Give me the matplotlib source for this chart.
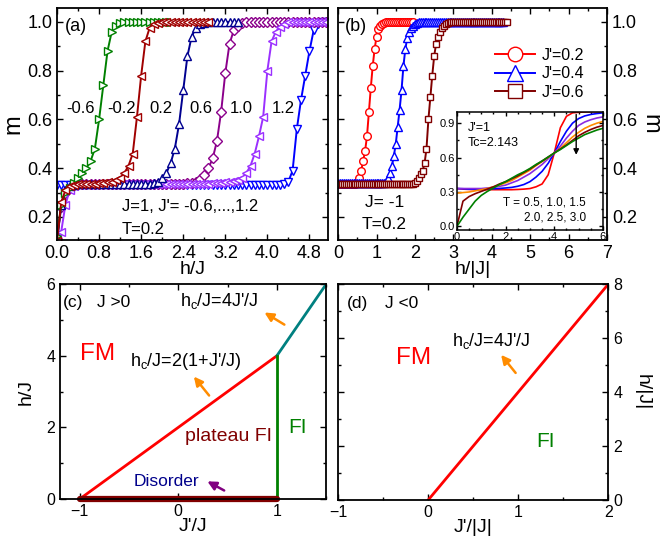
import matplotlib.pyplot as plt
from matplotlib.ticker import MultipleLocator, FormatStrFormatter

plt.rcParams['font.family'] = ['Liberation Sans', 'DejaVu Sans']
plt.rcParams['mathtext.default'] = 'regular'
plt.rcParams['xtick.direction'] = 'in'
plt.rcParams['ytick.direction'] = 'in'
plt.rcParams['xtick.top'] = True
plt.rcParams['ytick.right'] = True
plt.rcParams['axes.linewidth'] = 1.3
plt.rcParams['xtick.major.size'] = 4
plt.rcParams['ytick.major.size'] = 4
plt.rcParams['xtick.minor.size'] = 2
plt.rcParams['ytick.minor.size'] = 2
plt.rcParams['xtick.major.width'] = 1
plt.rcParams['ytick.major.width'] = 1
plt.rcParams['xtick.minor.width'] = 1
plt.rcParams['ytick.minor.width'] = 1

# ---- panel (a): J=1, T=0.2, m vs h/J ----
h_a = [0.00, 0.08, 0.16, 0.24, 0.32, 0.40, 0.48, 0.56, 0.64, 0.72, 0.80, 0.88, 0.96,
       1.04, 1.12, 1.20, 1.28, 1.36, 1.44, 1.52, 1.60, 1.68, 1.76, 1.84, 1.92, 2.00,
       2.08, 2.16, 2.24, 2.32, 2.40, 2.48, 2.56, 2.64, 2.72, 2.80, 2.88, 2.96, 3.04,
       3.12, 3.20, 3.28, 3.36, 3.44, 3.52, 3.60, 3.68, 3.76, 3.84, 3.92, 4.00, 4.08,
       4.16, 4.24, 4.32, 4.40, 4.48, 4.56, 4.64, 4.72, 4.80, 4.88, 4.96, 5.04, 5.12]
m_a_m06 = [0.12, 0.25, 0.30, 0.32, 0.34, 0.36, 0.38, 0.40, 0.43, 0.48, 0.60, 0.74, 0.88,
           0.96, 0.985, 0.995] + [1.0] * 12
m_a_m02 = [0.10, 0.26, 0.31, 0.325, 0.33,
           0.333, 0.334, 0.335, 0.336, 0.337, 0.338, 0.34, 0.342, 0.345, 0.35,
           0.36, 0.38, 0.41, 0.46, 0.61, 0.78, 0.92, 0.975, 0.99, 0.997] + [1.0] * 12
m_a_02 = [0.10, 0.25, 0.31, 0.325, 0.33] + [0.333] * 15 + \
         [0.334, 0.335, 0.337, 0.34, 0.345,
          0.36, 0.38, 0.42, 0.48, 0.58, 0.72, 0.86, 0.94, 0.975, 0.99, 0.995] + [1.0] * 8
m_a_06 = [0.11, 0.24, 0.30, 0.32, 0.33] + [0.333] * 23 + \
         [0.334, 0.335, 0.336, 0.338, 0.34,
          0.345, 0.355, 0.37, 0.40, 0.44, 0.51, 0.63, 0.79, 0.91, 0.965, 0.985, 0.995] + [1.0] * 20
m_a_10 = [0.11, 0.14, 0.25, 0.31, 0.325] + [0.335] * 30 + \
         [0.336, 0.337, 0.338, 0.339, 0.34, 0.342, 0.345, 0.348, 0.352,
          0.36, 0.38, 0.41, 0.46, 0.53, 0.61, 0.80, 0.92, 0.96, 0.98, 0.99] + [1.0] * 10
m_a_12 = [0.33] * 54 + [0.335, 0.345, 0.39, 0.56, 0.68, 0.78, 0.88, 0.965, 0.99, 1.0, 1.0]
labels_a = ['-0.6', '-0.2', '0.2', '0.6', '1.0', '1.2']
label_pos_a = [0.45, 1.22, 1.97, 2.73, 3.50, 4.30]

# ---- panel (b): J=-1, T=0.2 ----
h_b = [0.00, 0.05, 0.10, 0.15, 0.20, 0.25, 0.30, 0.35, 0.40, 0.45, 0.50, 0.55, 0.60,
       0.65, 0.70, 0.75, 0.80, 0.85, 0.90, 0.95, 1.00, 1.05, 1.10, 1.15, 1.20, 1.25,
       1.30, 1.35, 1.40, 1.45, 1.50, 1.55, 1.60, 1.65, 1.70, 1.75, 1.80, 1.85, 1.90,
       1.95, 2.00, 2.05, 2.10, 2.15, 2.20, 2.25, 2.30, 2.35, 2.40, 2.45, 2.50, 2.55,
       2.60, 2.65, 2.70, 2.75, 2.80, 2.85, 2.90, 2.95, 3.00, 3.05, 3.10, 3.15, 3.20,
       3.25, 3.30, 3.35, 3.40, 3.45, 3.50, 3.55, 3.60, 3.65, 3.70, 3.75, 3.80, 3.85,
       3.90, 3.95, 4.00, 4.05, 4.10, 4.15, 4.20, 4.25, 4.30, 4.35, 4.40]
m_b_02 = [0.335] * 10 + [0.34, 0.36, 0.39, 0.43, 0.47, 0.53, 0.63, 0.73, 0.82, 0.89,
                         0.94, 0.97, 0.985, 0.993, 0.997] + [1.0] * 15
m_b_04 = [0.34] * 25 + [0.345, 0.36, 0.38, 0.41, 0.45, 0.50, 0.57, 0.64, 0.72, 0.82,
                        0.89, 0.935, 0.96, 0.975, 0.985, 0.99, 0.995] + [1.0] * 45
m_b_06 = [0.333] * 39 + [0.335, 0.34, 0.347, 0.36, 0.375, 0.39, 0.42, 0.48, 0.60, 0.69,
                         0.78, 0.86, 0.91, 0.94, 0.96, 0.975, 0.985, 0.99, 0.995] + [1.0] * 31

# ---- inset: J'=1, several T ----
h_in = [0.0, 0.25, 0.5, 0.75, 1.0, 1.25, 1.5, 1.75, 2.0, 2.25, 2.5, 2.75, 3.0,
        3.25, 3.5, 3.75, 4.0, 4.25, 4.5, 4.75, 5.0, 5.25, 5.5, 5.75, 6.0]
m_t05 = [0.33, 0.325, 0.322, 0.32, 0.32, 0.32, 0.32, 0.32, 0.32, 0.32, 0.322, 0.325, 0.33,
         0.345, 0.37, 0.45, 0.64, 0.86, 0.96, 0.99, 0.995, 0.998, 1.0, 1.0, 1.0]
m_t10 = [0.33, 0.328, 0.325, 0.325, 0.325, 0.326, 0.328, 0.331, 0.335, 0.34, 0.35, 0.365, 0.39,
         0.43, 0.48, 0.55, 0.64, 0.74, 0.83, 0.90, 0.94, 0.963, 0.976, 0.984, 0.99]
m_t15 = [0.33, 0.33, 0.33, 0.33, 0.33, 0.335, 0.34, 0.35, 0.36, 0.38, 0.40, 0.43, 0.46,
         0.50, 0.54, 0.59, 0.64, 0.70, 0.77, 0.83, 0.88, 0.91, 0.93, 0.945, 0.955]
m_t20 = [0.29, 0.295, 0.30, 0.31, 0.32, 0.33, 0.345, 0.36, 0.38, 0.40, 0.43, 0.46, 0.49,
         0.53, 0.565, 0.60, 0.64, 0.68, 0.73, 0.78, 0.82, 0.855, 0.88, 0.90, 0.915]
m_t25 = [0.0, 0.22, 0.26, 0.285, 0.305, 0.325, 0.345, 0.37, 0.39, 0.415, 0.44, 0.47, 0.50,
         0.535, 0.57, 0.605, 0.64, 0.675, 0.71, 0.75, 0.79, 0.82, 0.845, 0.865, 0.88]
m_t30 = [0.0, 0.08, 0.15, 0.22, 0.27, 0.305, 0.335, 0.365, 0.39, 0.42, 0.45, 0.475, 0.505,
         0.54, 0.57, 0.605, 0.64, 0.67, 0.705, 0.74, 0.77, 0.80, 0.82, 0.84, 0.855]

# ---- panel (c): phase diagram J>0 ----
line_fm_x = [-1, 1]
line_fm_y = [0, 4]
line_hi_x = [1, 1.5]
line_hi_y = [4, 6]
line_fi_x = [1, 1]
line_fi_y = [0, 4]
line_dis_x = [-1, 1]
line_dis_y = [0, 0]

# ---- panel (d): phase diagram J<0 ----
line_d_x = [0, 2]
line_d_y = [0, 8]

fig = plt.figure(figsize=(6.67, 5.37), dpi=100)
ax_a = fig.add_axes([0.0855, 0.553, 0.406, 0.432])
ax_b = fig.add_axes([0.507, 0.553, 0.403, 0.432])
ax_c = fig.add_axes([0.090, 0.0708, 0.399, 0.400])
ax_d = fig.add_axes([0.507, 0.0689, 0.405, 0.402])
ax_in = fig.add_axes([0.685, 0.572, 0.219, 0.220])

# panel (a)
curves_a = [(m_a_12, '#0000FF', 'v', 6), (m_a_06, '#8B008B', 'D', 5),
            (m_a_10, '#9B30FF', '<', 6), (m_a_02, '#000090', '^', 6),
            (m_a_m06, '#008000', '>', 6), (m_a_m02, '#A00000', '<', 6)]
for m, c, mk, ms in curves_a:
    ax_a.plot(h_a[:len(m)], m, color=c, lw=1.4, marker=mk, ms=ms,
              mfc='white', mec=c, mew=1.0)
for lab, x in zip(labels_a, label_pos_a):
    ax_a.text(x, 0.645, lab, fontsize=12, ha='center', va='center')
ax_a.text(0.15, 0.98, '(a)', fontsize=13, va='center')
ax_a.text(1.23, 0.242, "J=1, J'= -0.6,...,1.2", fontsize=12, va='center')
ax_a.text(1.23, 0.15, 'T=0.2', fontsize=12, va='center')
ax_a.set_xlim(0, 5.15)
ax_a.set_ylim(0.105, 1.057)
ax_a.xaxis.set_major_locator(MultipleLocator(0.8))
ax_a.xaxis.set_minor_locator(MultipleLocator(0.4))
ax_a.xaxis.set_major_formatter(FormatStrFormatter('%.1f'))
ax_a.yaxis.set_major_locator(MultipleLocator(0.2))
ax_a.yaxis.set_minor_locator(MultipleLocator(0.1))
ax_a.yaxis.set_major_formatter(FormatStrFormatter('%.1f'))
ax_a.tick_params(labelsize=13)
ax_a.set_xlabel('h/J', fontsize=14)
ax_a.xaxis.set_label_coords(0.5, -0.09)
ax_a.set_ylabel('m', fontsize=17)
ax_a.yaxis.set_label_coords(-0.12, 0.5)

# panel (b)
curves_b = [(m_b_02, '#FF0000', 'o', 5.5, "J'=0.2"), (m_b_04, '#0000FF', '^', 6, "J'=0.4"),
            (m_b_06, '#800000', 's', 5, "J'=0.6")]
for m, c, mk, ms, lab in curves_b:
    ax_b.plot(h_b[:len(m)], m, color=c, lw=1.4, marker=mk, ms=ms,
              mfc='white', mec=c, mew=1.0, label=lab)
ax_b.legend(loc='upper left', bbox_to_anchor=(0.53, 0.89), frameon=False, fontsize=11.5,
            markerscale=1.9, handlelength=2.5, labelspacing=0.22, handletextpad=0.4)
ax_b.text(0.18, 0.98, '(b)', fontsize=13, va='center')
ax_b.text(0.7, 0.257, 'J= -1', fontsize=12.5, va='center')
ax_b.text(0.62, 0.167, 'T=0.2', fontsize=12.5, va='center')
ax_b.set_xlim(0, 7)
ax_b.set_ylim(0.105, 1.057)
ax_b.xaxis.set_major_locator(MultipleLocator(1))
ax_b.xaxis.set_minor_locator(MultipleLocator(0.5))
ax_b.yaxis.set_major_locator(MultipleLocator(0.2))
ax_b.yaxis.set_minor_locator(MultipleLocator(0.1))
ax_b.yaxis.set_major_formatter(FormatStrFormatter('%.1f'))
ax_b.tick_params(labelsize=13, labelleft=False, labelright=True)
ax_b.set_xlabel('h/|J|', fontsize=14)
ax_b.xaxis.set_label_coords(0.5, -0.09)
ax_b.yaxis.set_label_position('right')
ax_b.set_ylabel('m', fontsize=17, rotation=270, va='bottom')
ax_b.yaxis.set_label_coords(1.12, 0.5)

# inset
inset_curves = [(m_t05, '#FF0000'), (m_t10, '#0000FF'), (m_t15, '#8A2BE2'),
                (m_t20, '#FF8C00'), (m_t25, '#800000'), (m_t30, '#008000')]
for m, c in inset_curves:
    ax_in.plot(h_in, m, color=c, lw=1.2)
ax_in.annotate('', xy=(4.9, 0.6), xytext=(4.9, 1.0),
               arrowprops=dict(arrowstyle='-|>', color='black', lw=1, mutation_scale=8))
ax_in.text(0.45, 0.86, "J'=1", fontsize=9, va='center')
ax_in.text(0.45, 0.73, 'Tc=2.143', fontsize=9, va='center')
ax_in.text(1.9, 0.21, 'T = 0.5, 1.0, 1.5', fontsize=8.5, va='center')
ax_in.text(2.75, 0.08, '2.0, 2.5, 3.0', fontsize=8.5, va='center')
ax_in.set_xlim(0, 6)
ax_in.set_ylim(-0.03, 1.0)
ax_in.xaxis.set_major_locator(MultipleLocator(2))
ax_in.xaxis.set_minor_locator(MultipleLocator(0.5))
ax_in.yaxis.set_major_locator(MultipleLocator(0.3))
ax_in.yaxis.set_minor_locator(MultipleLocator(0.15))
ax_in.yaxis.set_major_formatter(FormatStrFormatter('%.1f'))
ax_in.tick_params(labelsize=8, pad=1.5, length=3)
ax_in.tick_params(which='minor', length=1.5)
for s in ax_in.spines.values():
    s.set_linewidth(1.1)

# panel (c)
ax_c.plot(line_fm_x, line_fm_y, color='#FF0000', lw=2)
ax_c.plot(line_hi_x, line_hi_y, color='#008080', lw=2)
ax_c.plot(line_fi_x, line_fi_y, color='#008000', lw=2)
ax_c.plot(line_dis_x, line_dis_y, color='#800000', lw=4.5, solid_capstyle='round', clip_on=False)
ax_c.text(-1.17, 5.5, '(c)', fontsize=12.5, va='center')
ax_c.text(-0.82, 5.5, 'J >0', fontsize=12.5, va='center')
ax_c.text(-1.0, 4.04, 'FM', fontsize=17.5, color='#FF0000', va='center')
ax_c.text(-0.49, 3.85, "h$_c$/J=2(1+J'/J)", fontsize=13, va='center')
ax_c.text(0.02, 5.52, "h$_c$/J=4J'/J", fontsize=13, va='center')
ax_c.text(0.07, 1.75, 'plateau FI', fontsize=14, color='#800000', va='center')
ax_c.text(1.12, 2.0, 'FI', fontsize=15, color='#008000', va='center')
ax_c.text(-0.45, 0.49, 'Disorder', fontsize=12.5, color='#00008B', va='center')
ax_c.annotate('', xy=(0.14, 3.48), xytext=(0.33, 2.83),
              arrowprops=dict(arrowstyle='-|>', color='#FF8C00', lw=1.8, mutation_scale=13))
ax_c.annotate('', xy=(0.85, 5.25), xytext=(1.10, 4.83),
              arrowprops=dict(arrowstyle='-|>', color='#FF8C00', lw=1.8, mutation_scale=13))
ax_c.annotate('', xy=(0.27, 0.53), xytext=(0.49, 0.2),
              arrowprops=dict(arrowstyle='-|>', color='#800080', lw=1.8, mutation_scale=13))
ax_c.set_xlim(-1.2, 1.5)
ax_c.set_ylim(0, 6)
ax_c.xaxis.set_major_locator(MultipleLocator(1))
ax_c.xaxis.set_minor_locator(MultipleLocator(0.5))
ax_c.yaxis.set_major_locator(MultipleLocator(2))
ax_c.yaxis.set_minor_locator(MultipleLocator(1))
ax_c.tick_params(labelsize=11.5)
ax_c.set_xlabel("J'/J", fontsize=14)
ax_c.xaxis.set_label_coords(0.5, -0.088)
ax_c.set_ylabel('h/J', fontsize=14)
ax_c.yaxis.set_label_coords(-0.094, 0.5)

# panel (d)
ax_d.plot(line_d_x, line_d_y, color='#FF0000', lw=2)
ax_d.text(-0.9, 7.28, '(d)', fontsize=12.5, va='center')
ax_d.text(-0.48, 7.28, 'J <0', fontsize=12.5, va='center')
ax_d.text(-0.36, 5.25, 'FM', fontsize=17.5, color='#FF0000', va='center')
ax_d.text(0.26, 5.9, "h$_c$/J=4J'/J", fontsize=13, va='center')
ax_d.text(1.2, 2.16, 'FI', fontsize=15, color='#008000', va='center')
ax_d.annotate('', xy=(0.79, 5.46), xytext=(0.99, 4.63),
              arrowprops=dict(arrowstyle='-|>', color='#FF8C00', lw=1.8, mutation_scale=13))
ax_d.set_xlim(-1, 2)
ax_d.set_ylim(0, 8)
ax_d.xaxis.set_major_locator(MultipleLocator(1))
ax_d.xaxis.set_minor_locator(MultipleLocator(0.5))
ax_d.yaxis.set_major_locator(MultipleLocator(2))
ax_d.yaxis.set_minor_locator(MultipleLocator(1))
ax_d.tick_params(labelsize=11.5, labelleft=False, labelright=True)
ax_d.set_xlabel("J'/|J|", fontsize=14)
ax_d.xaxis.set_label_coords(0.5, -0.088)
ax_d.yaxis.set_label_position('right')
ax_d.set_ylabel('h/|J|', fontsize=14, rotation=270, va='bottom')
ax_d.yaxis.set_label_coords(1.093, 0.5)

fig.savefig('out.png', dpi=100)
